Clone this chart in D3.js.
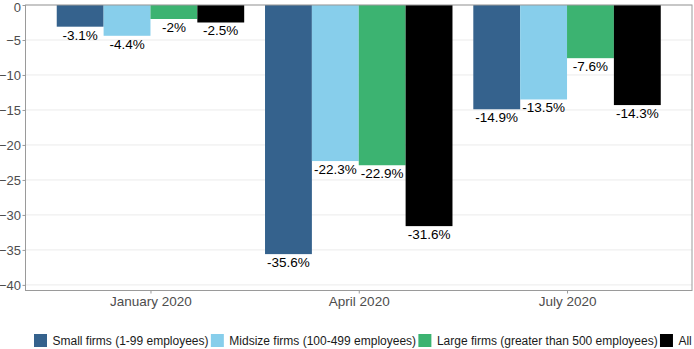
<!DOCTYPE html>
<html>
<head>
<meta charset="utf-8">
<script src="https://cdn.jsdelivr.net/npm/d3@7"></script>
<style>
  body { margin: 0; background: #fff; }
  svg { display: block; font-family: Arial, "Liberation Sans", sans-serif; }
</style>
</head>
<body>
<div id="chart"></div>
<script>
// Data
const periods = ["January 2020", "April 2020", "July 2020"];
const seriesNames = [
  "Small firms (1-99 employees)",
  "Midsize firms (100-499 employees)",
  "Large firms (greater than 500 employees)",
  "All"
];
const smallFirms = [-3.1, -35.6, -14.9];
const midsizeFirms = [-4.4, -22.3, -13.5];
const largeFirms = [-2, -22.9, -7.6];
const allFirms = [-2.5, -31.6, -14.3];
const yTicks = [0, -5, -10, -15, -20, -25, -30, -35, -40];
const seriesColors = ["#35628d", "#87ceeb", "#3cb371", "#000000"];

const seriesValues = [smallFirms, midsizeFirms, largeFirms, allFirms];

const width = 694;
const height = 349;
const panel = { left: 25.5, right: 692, top: 5, bottom: 290.5 };

const svg = d3.select("#chart").append("svg")
  .attr("width", width)
  .attr("height", height);

// flatten into rows for the bars
const rows = [];
periods.forEach((p, i) => {
  seriesNames.forEach((s, j) => {
    rows.push({ period: p, series: s, value: seriesValues[j][i], color: seriesColors[j] });
  });
});

// ggplot-like discrete expansion: 0.6 of a step on each side
const step = (panel.right - panel.left) / (periods.length - 1 + 1.2);
const xCenter = d3.scalePoint()
  .domain(periods)
  .range([panel.left + 0.6 * step, panel.right - 0.6 * step]);
const groupWidth = step * 0.9;
const xInner = d3.scaleBand()
  .domain(seriesNames)
  .range([0, groupWidth]);

const y = d3.scaleLinear()
  .domain([-40.8, 0])
  .range([panel.bottom, panel.top]);

// grid lines
svg.append("g")
  .selectAll("line")
  .data(yTicks)
  .enter()
  .append("line")
  .attr("x1", panel.left)
  .attr("x2", panel.right)
  .attr("y1", (d) => y(d))
  .attr("y2", (d) => y(d))
  .attr("stroke", "#ebebeb")
  .attr("stroke-width", 1);

// bars
svg.append("g")
  .selectAll("rect")
  .data(rows)
  .enter()
  .append("rect")
  .attr("x", (d) => xCenter(d.period) - groupWidth / 2 + xInner(d.series))
  .attr("y", y(0))
  .attr("width", xInner.bandwidth())
  .attr("height", (d) => y(d.value) - y(0))
  .attr("fill", (d) => d.color);

// value labels under each bar
svg.append("g")
  .selectAll("text")
  .data(rows)
  .enter()
  .append("text")
  .attr("x", (d) => xCenter(d.period) - groupWidth / 2 + xInner(d.series) + xInner.bandwidth() / 2)
  .attr("y", (d) => y(d.value) + 13)
  .attr("text-anchor", "middle")
  .attr("font-size", "13.5px")
  .attr("fill", "#000")
  .text((d) => `${d.value}%`);

// panel border
svg.append("rect")
  .attr("x", panel.left)
  .attr("y", panel.top)
  .attr("width", panel.right - panel.left)
  .attr("height", panel.bottom - panel.top)
  .attr("fill", "none")
  .attr("stroke", "#9a9a9a")
  .attr("stroke-width", 1);

// y axis
const yAxis = svg.append("g")
  .attr("transform", `translate(${panel.left},0)`)
  .call(d3.axisLeft(y).tickValues(yTicks).tickSize(3).tickPadding(1.5).tickFormat(d3.format("d")));
yAxis.select(".domain").remove();
yAxis.selectAll("line").attr("stroke", "#9a9a9a");
yAxis.selectAll("text")
  .attr("font-size", "13px")
  .attr("font-family", "Arial, 'Liberation Sans', sans-serif")
  .attr("fill", "#4d4d4d");
// the top label sits right at the edge; nudge it so it stays inside the page
yAxis.selectAll(".tick")
  .filter((d) => d === 0)
  .select("text")
  .attr("dy", "0.5em");

// x axis
const xAxis = svg.append("g")
  .attr("transform", `translate(0,${panel.bottom})`)
  .call(d3.axisBottom(xCenter).tickSize(3).tickPadding(3));
xAxis.select(".domain").remove();
xAxis.selectAll("line").attr("stroke", "#9a9a9a");
xAxis.selectAll("text")
  .attr("font-size", "13.5px")
  .attr("font-family", "Arial, 'Liberation Sans', sans-serif")
  .attr("fill", "#4d4d4d");

// legend along the bottom
const legend = svg.append("g");
let lx = 34;
seriesNames.forEach((name, i) => {
  legend.append("rect")
    .attr("x", lx)
    .attr("y", 334)
    .attr("width", 13)
    .attr("height", 13)
    .attr("fill", seriesColors[i]);
  const t = legend.append("text")
    .attr("x", lx + 18.5)
    .attr("y", 345)
    .attr("font-size", "12px")
    .attr("fill", "#1a1a1a")
    .text(name);
  lx += 18.5 + t.node().getComputedTextLength() + 2.3;
});
</script>
</body>
</html>
